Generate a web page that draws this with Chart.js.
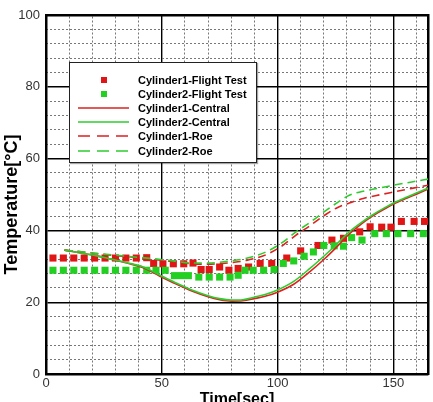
<!DOCTYPE html>
<html>
<head>
<meta charset="utf-8">
<script src="https://cdn.jsdelivr.net/npm/chart.js@4.4.1/dist/chart.umd.min.js"></script>
<style>
  html, body { margin: 0; padding: 0; background: #fff; }
  #wrap { position: relative; width: 433px; height: 402px; overflow: hidden; }
  #legend { position: absolute; left: 69px; top: 62px; width: 186px; height: 99px;
            border: 1px solid #222; background: #fff; box-shadow: 1px 1px 1px rgba(0,0,0,0.35);
            font-family: 'Liberation Sans', Arial, sans-serif; font-weight: bold; font-size: 11px; color: #000; }
  .row { position: absolute; left: 0; height: 14px; width: 186px; }
  .row svg { position: absolute; left: 0; top: 0; }
  .row span { position: absolute; left: 68px; top: 0; line-height: 14px; white-space: nowrap; }
</style>
</head>
<body>
<div id="wrap">
  <canvas id="c" width="433" height="402"></canvas>
  <div id="legend"></div>
</div>
<script>
// ---- Data ----
const cyl1TestTime = [3, 7.5, 12, 16.5, 21, 25.5, 30, 34.5, 39, 43.5, 46.5, 50.5, 55, 59.5, 63.5, 67, 70.5, 75, 79, 83, 87.5, 92.5, 97.5, 104, 110, 117.5, 123.5, 128.5, 135.5, 140, 145, 149, 153.5, 159, 163.5];
const cyl1TestTemp = [32.3, 32.3, 32.3, 32.3, 32.3, 32.3, 32.3, 32.3, 32.3, 32.4, 30.8, 30.7, 30.7, 30.7, 30.9, 29.1, 29.1, 29.8, 28.9, 29.4, 29.8, 30.8, 30.8, 32.3, 34.3, 35.8, 37.3, 37.8, 39.6, 41.0, 40.9, 40.9, 42.5, 42.5, 42.5];

const cyl2TestTime = [3, 7.5, 12, 16.5, 21, 25.5, 30, 34.5, 39, 43.5, 47.5, 51.5, 55.5, 58.5, 61.5, 66, 70.5, 75, 79.5, 83, 86, 89.5, 94, 98.5, 102.5, 107, 111.5, 115.5, 120, 124.5, 128.5, 132, 136.5, 142, 147, 152, 157.5, 163];
const cyl2TestTemp = [28.9, 28.9, 28.9, 28.9, 28.9, 28.9, 28.9, 28.9, 28.9, 28.9, 28.9, 28.9, 27.4, 27.4, 27.4, 27.0, 27.0, 27.0, 27.0, 27.5, 28.9, 28.9, 28.9, 29.1, 30.8, 31.5, 32.8, 34.0, 35.8, 35.7, 35.6, 38.0, 37.3, 39.1, 39.1, 39.1, 39.1, 39.1];

const centralTime = [8, 15, 22, 28, 35, 42, 49, 56, 63, 70, 75, 80, 85, 90, 95, 100, 107, 114, 120, 125, 131, 136, 141, 146, 151, 156, 160, 165];
const cyl1Central = [34.5, 33.7, 32.9, 32.0, 30.9, 29.6, 27.3, 25.1, 23.1, 21.5, 20.7, 20.3, 20.4, 21.0, 21.7, 22.8, 25.0, 28.5, 31.9, 35.0, 39.0, 41.7, 44.0, 45.9, 47.6, 49.0, 50.1, 51.5];
const cyl2Central = [34.5, 33.7, 32.9, 32.0, 31.0, 29.8, 27.6, 25.4, 23.4, 21.8, 21.0, 20.6, 20.7, 21.4, 22.2, 23.4, 25.8, 29.4, 32.8, 35.8, 39.6, 42.1, 44.3, 46.2, 47.9, 49.3, 50.4, 51.8];

const roeTime = [8, 16, 25, 35, 45, 55, 63, 70, 76, 81, 87, 95, 102, 108, 114, 121, 126, 131, 137, 144, 151, 158, 165];
const cyl1Roe = [34.5, 34.0, 33.3, 32.7, 32.0, 31.3, 30.7, 30.6, 30.8, 31.1, 31.7, 33.2, 35.7, 38.7, 41.3, 44.5, 46.4, 47.6, 48.9, 49.9, 50.8, 51.7, 52.6];
const cyl2Roe = [34.5, 34.0, 33.4, 32.8, 32.2, 31.5, 30.9, 30.9, 31.2, 31.6, 32.3, 34.0, 36.6, 39.6, 42.2, 45.6, 47.8, 49.8, 50.9, 51.8, 52.7, 53.5, 54.3];

const seriesLabels = ['Cylinder1-Flight Test', 'Cylinder2-Flight Test', 'Cylinder1-Central', 'Cylinder2-Central', 'Cylinder1-Roe', 'Cylinder2-Roe'];

const xMajorTicks = [0, 50, 100, 150];
const xMinorTicks = [10, 20, 30, 40, 60, 70, 80, 90, 110, 120, 130, 140, 160];
const yMajorTicks = [0, 20, 40, 60, 80, 100];
const yMinorTicks = [4, 8, 12, 16, 24, 28, 32, 36, 44, 48, 52, 56, 64, 68, 72, 76, 84, 88, 92, 96];

const xTitle = 'Time[sec]';
const yTitle = 'Temperature[°C]';

// ---- Build ----
const RED = '#e01515';
const GREEN = '#22d022';
const RED_LINE = '#dd2020';
const GREEN_LINE = '#2ecc2e';
const FONT = "'Liberation Sans', Arial, Helvetica, sans-serif";

const pts = (xs, ys) => xs.map((x, i) => ({x: x, y: ys[i]}));

const datasets = [
  {label: seriesLabels[0], data: pts(cyl1TestTime, cyl1TestTemp), showLine: false, pointStyle: 'rect', pointRadius: 5, pointBorderWidth: 0, backgroundColor: RED, borderColor: RED, order: 6},
  {label: seriesLabels[1], data: pts(cyl2TestTime, cyl2TestTemp), showLine: false, pointStyle: 'rect', pointRadius: 5, pointBorderWidth: 0, backgroundColor: GREEN, borderColor: GREEN, order: 5},
  {label: seriesLabels[2], data: pts(centralTime, cyl1Central), showLine: true, pointRadius: 0, borderColor: RED_LINE, borderWidth: 1.6, cubicInterpolationMode: 'monotone', order: 4},
  {label: seriesLabels[3], data: pts(centralTime, cyl2Central), showLine: true, pointRadius: 0, borderColor: GREEN_LINE, borderWidth: 1.6, cubicInterpolationMode: 'monotone', order: 3},
  {label: seriesLabels[4], data: pts(roeTime, cyl1Roe), showLine: true, pointRadius: 0, borderColor: RED_LINE, borderWidth: 1.6, borderDash: [8, 5], cubicInterpolationMode: 'monotone', order: 2},
  {label: seriesLabels[5], data: pts(roeTime, cyl2Roe), showLine: true, pointRadius: 0, borderColor: GREEN_LINE, borderWidth: 1.6, borderDash: [8, 5], cubicInterpolationMode: 'monotone', order: 1}
];

const setTicks = arr => (s => { s.ticks = arr.map(v => ({value: v})); });

new Chart(document.getElementById('c'), {
  type: 'scatter',
  data: {datasets: datasets},
  options: {
    responsive: false,
    animation: false,
    layout: {padding: {top: 15, right: 5, left: 0, bottom: 0}},
    plugins: {legend: {display: false}, tooltip: {enabled: false}},
    scales: {
      x: {
        type: 'linear', position: 'bottom', min: 0, max: 165,
        afterBuildTicks: setTicks(xMajorTicks),
        afterFit: s => { s.height = 28; },
        ticks: {font: {family: FONT, size: 13}, color: '#333', padding: 2, maxRotation: 0, autoSkip: false},
        grid: {color: '#000', lineWidth: 1.4, drawTicks: false},
        border: {color: '#000', width: 2.5},
        title: {display: true, text: xTitle, font: {family: FONT, size: 16, weight: 'bold'}, color: '#000', padding: {top: 0, bottom: -7}}
      },
      xMinor: {
        type: 'linear', position: 'top', min: 0, max: 165,
        afterBuildTicks: setTicks(xMinorTicks),
        afterFit: s => { s.height = 0; },
        ticks: {display: false},
        grid: {color: '#777', lineWidth: 1, drawTicks: false},
        border: {color: '#000', width: 2.5, dash: [2, 2]}
      },
      y: {
        type: 'linear', position: 'left', min: 0, max: 100,
        afterBuildTicks: setTicks(yMajorTicks),
        afterFit: s => { s.width = 46; },
        ticks: {font: {family: FONT, size: 13}, color: '#333', padding: 6, autoSkip: false},
        grid: {color: '#000', lineWidth: 1.4, drawTicks: false},
        border: {color: '#000', width: 2.5},
        title: {display: true, text: yTitle + '\u00a0\u00a0\u00a0\u00a0', font: {family: FONT, size: 18, weight: 'bold'}, color: '#000', padding: {top: 1, bottom: 0}}
      },
      yMinor: {
        type: 'linear', position: 'right', min: 0, max: 100,
        afterBuildTicks: setTicks(yMinorTicks),
        afterFit: s => { s.width = 0; },
        ticks: {display: false},
        grid: {color: '#777', lineWidth: 1, drawTicks: false},
        border: {color: '#000', width: 2.5, dash: [2, 2]}
      }
    }
  }
});

// ---- HTML legend built from the datasets ----
const legend = document.getElementById('legend');
datasets.forEach((d, i) => {
  const row = document.createElement('div');
  row.className = 'row';
  row.style.top = (10 + i * 14.1) + 'px';
  let sw;
  if (!d.showLine) {
    sw = `<svg width="66" height="14"><rect x="31" y="4" width="6" height="6" fill="${d.backgroundColor}"/></svg>`;
  } else {
    const dash = d.borderDash ? `stroke-dasharray="12,7"` : '';
    sw = `<svg width="66" height="14"><line x1="8" y1="7" x2="59" y2="7" stroke="${d.borderColor}" stroke-width="1.6" ${dash}/></svg>`;
  }
  row.innerHTML = sw + `<span>${d.label}</span>`;
  legend.appendChild(row);
});
</script>
</body>
</html>
